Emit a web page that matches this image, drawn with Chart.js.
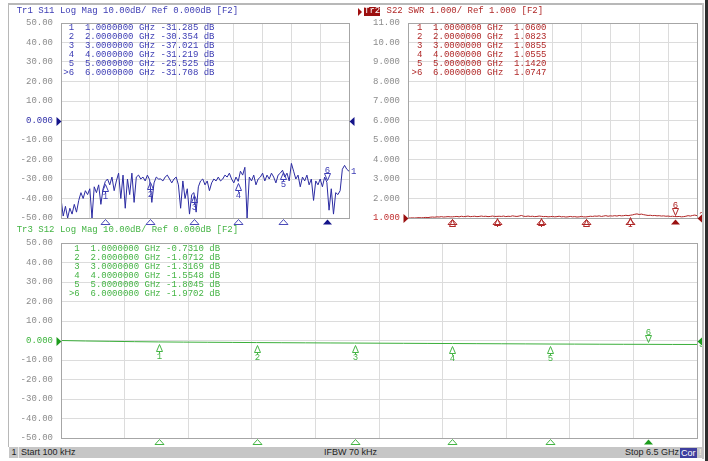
<!DOCTYPE html>
<html><head><meta charset="utf-8">
<script src="https://cdn.jsdelivr.net/npm/chart.js@4.4.0/dist/chart.umd.min.js"></script>
<style>
html,body{margin:0;padding:0;background:#fff;width:708px;height:461px;overflow:hidden;position:relative}
canvas{position:absolute;left:0;top:0}
.t{position:absolute;font-family:"Liberation Mono",monospace;font-size:9px;line-height:9px;white-space:pre}
.s{position:absolute;font-family:"Liberation Sans",Arial,sans-serif;font-size:9px;line-height:11px;white-space:pre;color:#1e1e1e}
.f{position:absolute}
</style></head><body>
<canvas id="c1" width="708" height="461"></canvas>
<canvas id="c2" width="708" height="461"></canvas>
<canvas id="c3" width="708" height="461"></canvas>
<script>
// ---------- data ----------
const freqFine = [0.0001,0.05,0.1,0.15,0.2,0.25,0.3,0.35,0.4,0.45,0.5,0.55,0.6,0.65,0.7,0.75,0.8,0.85,0.9,0.95,1,1.05,1.1,1.15,1.2,1.25,1.3,1.35,1.4,1.45,1.5,1.55,1.6,1.65,1.7,1.75,1.8,1.85,1.9,1.95,2,2.05,2.1,2.15,2.2,2.25,2.3,2.35,2.4,2.45,2.5,2.55,2.6,2.65,2.7,2.75,2.8,2.85,2.9,2.95,3,3.05,3.1,3.15,3.2,3.25,3.3,3.35,3.4,3.45,3.5,3.55,3.6,3.65,3.7,3.75,3.8,3.85,3.9,3.95,4,4.05,4.1,4.15,4.2,4.25,4.3,4.35,4.4,4.45,4.5,4.55,4.6,4.65,4.7,4.75,4.8,4.85,4.9,4.95,5,5.05,5.1,5.15,5.2,5.25,5.3,5.35,5.4,5.45,5.5,5.55,5.6,5.65,5.7,5.75,5.8,5.85,5.9,5.95,6,6.05,6.1,6.15,6.2,6.25,6.3,6.35,6.4,6.45,6.5];
const freqCoarse = [0.0001,0.25,0.5,0.75,1,1.25,1.5,1.75,2,2.25,2.5,2.75,3,3.25,3.5,3.75,4,4.25,4.5,4.75,5,5.25,5.5,5.75,6,6.25,6.5];

const s11Values = [-40,-49,-44,-50,-45,-48,-43,-47,-41,-37,-40,-36,-38,-35,-50,-34,-37,-33,-43,-35,
-31.3,-30,-33,-29,-36,-31,-27,-40,-28,-45,-30,-38,-27,-42,-29,-28,-30,-29,-31,-28,
-30.4,-42,-32,-29,-30,-30,-31,-29,-28,-30,-32,-30,-29,-33,-45,-31,-40,-35,-48,-38,
-37.0,-47,-34,-31,-30,-33,-31,-36,-32,-30,-31,-29,-31,-30,-28,-29,-27,-30,-32,-29,
-31.2,-26,-28,-24,-50,-29,-31,-28,-33,-30,-29,-27,-31,-28,-30,-27,-29,-32,-28,-27,
-25.5,-29,-27,-31,-22,-26,-30,-28,-34,-29,-31,-28,-33,-30,-41,-31,-33,-30,-34,-29,
-31.7,-46,-35,-48,-37,-38,-36,-25,-23,-25,-26];

const s22Values = [1.00,1.00,1.01,1.00,1.01,1.02,1.01,1.02,1.03,1.02,1.04,
1.05,1.04,1.06,1.05,1.07,1.05,1.06,1.07,1.06,
1.060,1.07,1.08,1.06,1.09,1.07,1.08,1.10,1.07,1.08,1.09,1.07,1.08,1.10,1.08,1.09,1.07,1.08,1.10,1.08,
1.082,1.09,1.08,1.10,1.07,1.09,1.08,1.11,1.09,1.08,1.10,1.13,1.09,1.08,1.10,1.08,1.09,1.07,1.08,1.10,
1.086,1.07,1.08,1.06,1.07,1.08,1.06,1.07,1.09,1.06,1.07,1.05,1.06,1.08,1.06,1.07,1.05,1.06,1.08,1.06,
1.056,1.07,1.09,1.08,1.10,1.09,1.11,1.08,1.10,1.12,1.09,1.11,1.10,1.12,1.10,1.13,1.11,1.12,1.14,1.12,
1.142,1.16,1.19,1.21,1.18,1.20,1.17,1.15,1.13,1.14,1.12,1.13,1.11,1.12,1.10,1.11,1.09,1.10,1.08,1.09,
1.075,1.07,1.08,1.06,1.07,1.09,1.12,1.10,1.13,1.15,1.12];

const s12Values = [0,-0.25,-0.42,-0.6,-0.731,-0.82,-0.9,-0.98,-1.0712,-1.13,-1.2,-1.26,-1.3169,-1.38,-1.44,-1.5,-1.5548,-1.62,-1.68,-1.74,-1.8045,-1.85,-1.9,-1.94,-1.9702,-2.02,-2.05];

const markerFreqs = [1,2,3,4,5,6];
const s11Markers = [-31.285,-30.354,-37.021,-31.219,-25.525,-31.708];
const s22Markers = [1.0600,1.0823,1.0855,1.0555,1.1420,1.0747];
const s12Markers = [-0.7310,-1.0712,-1.3169,-1.5548,-1.8045,-1.9702];

const xGrid = [0,0.65,1.3,1.95,2.6,3.25,3.9,4.55,5.2,5.85,6.5];
const dbTicks = [-50,-40,-30,-20,-10,0,10,20,30,40,50];
const swrTicks = [1,2,3,4,5,6,7,8,9,10,11];

// ---------- drawing ----------
const W = 708, H = 461;
const FONT = '9px "Liberation Mono", monospace';

const vnaPlugin = {
  id: 'vna',
  afterDatasetsDraw(chart, args, o) {
    const ctx = chart.ctx, ca = chart.chartArea, x = chart.scales.x, y = chart.scales.y;
    const L = Math.round(ca.left) + 0.5, R = Math.round(ca.right) + 0.5;
    const T = Math.round(ca.top) + 0.5, B = Math.round(ca.bottom) + 0.5;
    ctx.save();
    ctx.strokeStyle = '#a6a6a6'; ctx.lineWidth = 1;
    ctx.strokeRect(L, T, R - L, B - T);
    ctx.font = FONT;
    // trace number at right end
    const lastV = o.vals[o.vals.length - 1];
    ctx.fillStyle = o.markColor; ctx.textAlign = 'left'; ctx.textBaseline = 'middle';
    ctx.fillText(o.trNum, R + 1.5, y.getPixelForValue(lastV));
    // markers on trace
    ctx.save();
    ctx.beginPath(); ctx.rect(0, 0, W, B + (o.clipNums ? 8.5 : 40)); ctx.clip();
    ctx.lineWidth = 1; ctx.strokeStyle = o.markColor; ctx.fillStyle = o.markColor;
    ctx.textAlign = 'center';
    o.mFreqs.forEach((f, i) => {
      const px = Math.round(x.getPixelForValue(f)) + 0.5;
      const py = Math.round(y.getPixelForValue(o.mVals[i])) + 0.5;
      ctx.beginPath();
      if (i === o.active) {
        ctx.moveTo(px - 3, py - 9); ctx.lineTo(px + 3, py - 9); ctx.lineTo(px, py - 2); ctx.closePath();
        ctx.stroke();
        ctx.textBaseline = 'alphabetic';
        ctx.fillText(String(i + 1), px, py - 10);
      } else {
        ctx.moveTo(px, py + 2); ctx.lineTo(px + 3, py + 9); ctx.lineTo(px - 3, py + 9); ctx.closePath();
        ctx.moveTo(px, py + 9); ctx.lineTo(px, py + 11);
        ctx.stroke();
        ctx.textBaseline = 'top';
        ctx.fillText(String(i + 1), px, py + 10);
      }
    });
    ctx.restore();
    // bottom marker triangles
    o.mFreqs.forEach((f, i) => {
      const px = Math.round(x.getPixelForValue(f)) + 0.5;
      ctx.beginPath();
      ctx.moveTo(px, B + 1); ctx.lineTo(px + 4.5, B + 6); ctx.lineTo(px - 4.5, B + 6); ctx.closePath();
      if (i === o.active) { ctx.fillStyle = o.activeColor; ctx.fill(); }
      else { ctx.strokeStyle = o.bottomColor; ctx.stroke(); }
    });
    // reference arrows
    const ry = Math.round(y.getPixelForValue(o.ref)) + 0.5;
    ctx.fillStyle = o.arrowColor;
    ctx.beginPath(); ctx.moveTo(L - 5, ry - 4.5); ctx.lineTo(L, ry); ctx.lineTo(L - 5, ry + 4.5); ctx.closePath(); ctx.fill();
    ctx.beginPath(); ctx.moveTo(R + 5, ry - 4.5); ctx.lineTo(R, ry); ctx.lineTo(R + 5, ry + 4.5); ctx.closePath(); ctx.fill();
    ctx.restore();
  }
};

function makeChart(id, c) {
  const pts = c.freqs.map((f, i) => ({x: f, y: c.vals[i]}));
  return new Chart(document.getElementById(id), {
    type: 'line',
    data: {datasets: [{data: pts, borderColor: c.traceColor, borderWidth: 1, pointRadius: 0, tension: 0, fill: false}]},
    plugins: [vnaPlugin],
    options: {
      responsive: false, animation: false, devicePixelRatio: 1,
      layout: {padding: {left: 0, top: c.area.t, right: W - c.area.r, bottom: H - c.area.b}},
      plugins: {
        legend: {display: false}, tooltip: {enabled: false},
        vna: {vals: c.vals, mFreqs: markerFreqs, mVals: c.mVals, active: 5, ref: c.ref,
              markColor: c.markColor, bottomColor: c.bottomColor, activeColor: c.activeColor,
              arrowColor: c.arrowColor, trNum: c.trNum, clipNums: c.clipNums}
      },
      scales: {
        x: {type: 'linear', min: 0, max: 6.5,
            afterBuildTicks: s => { s.ticks = xGrid.map(v => ({value: v})); },
            afterFit: s => { s.height = 0; },
            ticks: {display: false},
            grid: {color: '#dcdcdc', drawTicks: false},
            border: {display: false}},
        y: {type: 'linear', min: c.ticks[0], max: c.ticks[c.ticks.length - 1],
            afterBuildTicks: s => { s.ticks = c.ticks.map(v => ({value: v})); },
            afterFit: s => { s.width = c.area.l; },
            ticks: {padding: 8, autoSkip: false,
                    font: {family: '"Liberation Mono", monospace', size: 9},
                    color: ctx => (ctx.tick && ctx.tick.value === c.ref) ? c.refColor : '#8c8c8c',
                    callback: v => Number(v).toPrecision(4)},
            grid: {color: '#dcdcdc', drawTicks: false},
            border: {display: false}}
      }
    }
  });
}

makeChart('c1', {area: {l: 61, r: 349, t: 23, b: 218}, ticks: dbTicks, ref: 0,
  freqs: freqFine, vals: s11Values, mVals: s11Markers, trNum: '1',
  traceColor: '#2b2ba2', markColor: '#3c3cb4', bottomColor: '#4a4ab8', activeColor: '#14148a',
  arrowColor: '#14148a', refColor: '#2f2fa8', clipNums: false});
makeChart('c2', {area: {l: 408, r: 697, t: 23, b: 218}, ticks: swrTicks, ref: 1,
  freqs: freqFine, vals: s22Values, mVals: s22Markers, trNum: '2',
  traceColor: '#b02424', markColor: '#b02828', bottomColor: '#b02828', activeColor: '#9a1010',
  arrowColor: '#9a1010', refColor: '#c03030', clipNums: true});
makeChart('c3', {area: {l: 61, r: 697, t: 243, b: 438}, ticks: dbTicks, ref: 0,
  freqs: freqCoarse, vals: s12Values, mVals: s12Markers, trNum: '3',
  traceColor: '#3aae3a', markColor: '#44b444', bottomColor: '#44b444', activeColor: '#1c9c1c',
  arrowColor: '#1c9c1c', refColor: '#3cb43c', clipNums: false});

// ---------- text overlays ----------
function addDiv(cls, left, top, text, style) {
  const d = document.createElement('div');
  d.className = cls; d.style.left = left + 'px'; d.style.top = top + 'px';
  if (text !== null) d.textContent = text;
  Object.assign(d.style, style || {});
  document.body.appendChild(d); return d;
}
function tableText(vals, fmt, unit) {
  return markerFreqs.map((f, i) => (i === 5 ? '>' : ' ') + (i + 1) + '  ' + f.toFixed(7) + ' GHz ' + fmt(vals[i]) + unit).join('\n');
}
// frame
addDiv('f', 8, 3, null, {width: '696px', height: '2px', background: '#b8b8b8'});
addDiv('f', 8, 3, null, {width: '1px', height: '444px', background: '#b8b8b8'});
addDiv('f', 702, 3, null, {width: '2px', height: '456px', background: '#c4c4c4'});
addDiv('f', 705, 0, null, {width: '3px', height: '461px', background: '#2e2e2e'});

// titles
addDiv('t', 16.7, 7, 'Tr1 S11 Log Mag 10.00dB/ Ref 0.000dB [F2]', {color: '#3c3cb4'});
addDiv('f', 358, 7.5, null, {width: 0, height: 0, borderLeft: '4px solid #a01010', borderTop: '4px solid transparent', borderBottom: '4px solid transparent'});
addDiv('t', 364, 7, 'Tr2', {color: '#ffffff', background: '#9c1010', padding: '0 0 0 0', height: '9px'});
addDiv('t', 386.5, 7, 'S22 SWR 1.000/ Ref 1.000 [F2]', {color: '#b02828'});
addDiv('t', 16.7, 226, 'Tr3 S12 Log Mag 10.00dB/ Ref 0.000dB [F2]', {color: '#44b444'});

// marker tables
addDiv('t', 63.3, 23.8, tableText(s11Markers, v => v.toFixed(3), ' dB'), {color: '#3c3cb4'});
addDiv('t', 411.5, 23.8, tableText(s22Markers, v => ' ' + v.toFixed(4), ''), {color: '#b02828'});
addDiv('t', 68.9, 244.5, tableText(s12Markers, v => v.toFixed(4), ' dB'), {color: '#44b444'});

// status bar
addDiv('f', 9, 447, null, {width: '693px', height: '11px', background: '#c6c6c6'});
addDiv('f', 18, 447, null, {width: '1px', height: '11px', background: '#ececec'});
addDiv('s', 11.5, 447, '1');
addDiv('s', 21, 447, 'Start 100 kHz');
addDiv('s', 324, 447, 'IFBW 70 kHz');
addDiv('s', 625, 447, 'Stop 6.5 GHz');
addDiv('s', 680, 447.5, 'Cor', {background: '#3e3e9e', color: '#ffffff', height: '10px', lineHeight: '10px', padding: '0 1px'});
addDiv('s', 699, 447, '!', {color: '#f4f4f4'});
</script>
</body></html>
